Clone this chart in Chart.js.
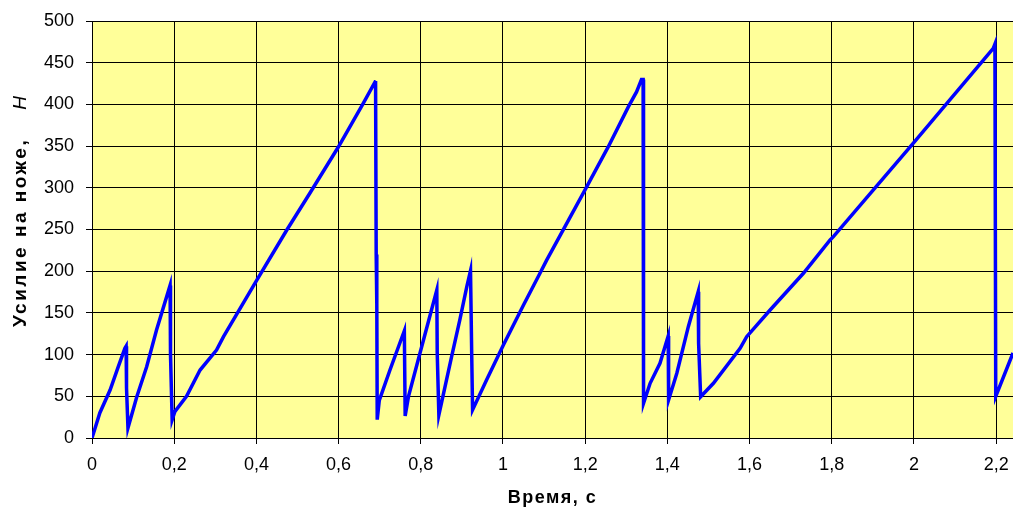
<!DOCTYPE html>
<html>
  <head>
    <meta charset="utf-8">
    <script src="https://cdn.jsdelivr.net/npm/chart.js@4.4.0/dist/chart.umd.min.js"></script>
    <style type="text/css">
      body { margin: 0; background: #ffffff; }
      #wrap { width: 1013px; height: 513px; }
    </style>
  </head>
  <body>
    <div id="wrap"><canvas id="canvas" width="1013" height="513"></canvas></div>

    <script type="text/javascript">
      // время, с
      var timeS = [
        0, 0.019, 0.044, 0.064, 0.080, 0.083, 0.084, 0.0875,
        0.109, 0.133, 0.157, 0.190, 0.191, 0.195,
        0.202, 0.230, 0.263, 0.303, 0.320, 0.401, 0.474, 0.530, 0.599, 0.660, 0.689, 0.690,
        0.6915, 0.693, 0.694,
        0.699, 0.725, 0.760, 0.762,
        0.770, 0.798, 0.839, 0.840, 0.844,
        0.875, 0.895, 0.912, 0.921, 0.924, 0.926,
        0.960, 1.001, 1.050, 1.090, 1.106, 1.199, 1.256, 1.305, 1.325, 1.337, 1.341,
        1.342,
        1.358, 1.382, 1.402, 1.403,
        1.423, 1.451, 1.475, 1.476, 1.481,
        1.512, 1.577, 1.593, 1.650, 1.731, 1.796, 1.804, 1.998, 2.193, 2.197,
        2.199, 2.241
      ];
      // усилие на ноже, Н
      var forceN = [
        0, 30, 57.5, 85.5, 107.5, 110, 60, 12,
        49.5, 85.5, 129.5, 183, 100, 21.6,
        32, 50, 81.5, 105.5, 121.5, 189.4, 249.4, 293.4, 348.6, 401.3, 427.2, 428,
        220, 160, 22,
        45, 81.5, 128.6, 26.4,
        49.6, 101.6, 177.5, 102, 27.6,
        97.5, 141.5, 181.4, 200.6, 97.5, 33.6,
        69.5, 111.5, 159.5, 197.5, 213, 297, 349, 397, 415, 430, 430,
        41.6,
        65.6, 89.6, 122.3, 45.6,
        77.6, 133.5, 175.4, 113.5, 49.5,
        65.6, 107.5, 121.5, 153.5, 197.5, 237.4, 241.4, 353.4, 467.3, 472.4,
        50, 102
      ];

      var xTicks = [0, 0.2, 0.4, 0.6, 0.8, 1, 1.2, 1.4, 1.6, 1.8, 2, 2.2];
      var yTicks = [0, 50, 100, 150, 200, 250, 300, 350, 400, 450, 500];

      var points = timeS.map(function(t, i) { return { x: t, y: forceN[i] }; });

      var fmt = function(v) {
        return String(Math.round(v * 10) / 10).replace(".", ",");
      };

      var FONT = "'Liberation Sans', Arial, sans-serif";

      var plotBg = {
        id: "plotBg",
        beforeDraw: function(chart) {
          var a = chart.chartArea, ctx = chart.ctx;
          ctx.save();
          ctx.fillStyle = "#ffff99";
          ctx.fillRect(a.left, a.top, a.right - a.left, a.bottom - a.top);
          ctx.restore();
        }
      };

      // подписи осей: жирный текст с разрядкой, курсивная H
      var axisTitles = {
        id: "axisTitles",
        afterDraw: function(chart) {
          var ctx = chart.ctx, a = chart.chartArea;
          ctx.save();
          ctx.fillStyle = "#000000";
          ctx.textBaseline = "middle";

          ctx.font = "bold 18px " + FONT;
          ctx.letterSpacing = "1.5px";
          ctx.textAlign = "center";
          ctx.fillText("Время, с", (a.left + a.right) / 2, 498);

          ctx.translate(21, 327);
          ctx.rotate(-Math.PI / 2);
          ctx.textAlign = "left";
          ctx.font = "bold 19px " + FONT;
          ctx.letterSpacing = "2.5px";
          var main = "Усилие на ноже,";
          ctx.fillText(main, 0, 0);
          var w = ctx.measureText(main).width;
          ctx.font = "italic 19px " + FONT;
          ctx.letterSpacing = "0px";
          ctx.fillText("H", w + 28, 0);
          ctx.restore();
        }
      };

      var ctx = document.getElementById("canvas").getContext("2d");
      new Chart(ctx, {
        type: "line",
        data: {
          datasets: [{
            data: points,
            borderColor: "#0000ff",
            borderWidth: 3.5,
            pointRadius: 0,
            tension: 0,
            fill: false
          }]
        },
        options: {
          responsive: false,
          animation: false,
          layout: { padding: { top: 21, right: 0, left: 0, bottom: 0 } },
          plugins: { legend: { display: false }, tooltip: { enabled: false } },
          scales: {
            x: {
              type: "linear",
              min: 0,
              max: 2.241,
              afterFit: function(s) { s.height = 75; s.paddingLeft = 0; s.paddingRight = 0; },
              afterBuildTicks: function(s) {
                s.ticks = xTicks.map(function(v) { return { value: v }; });
              },
              ticks: {
                color: "#000000",
                padding: 10,
                maxRotation: 0,
                font: { family: FONT, size: 18 },
                callback: fmt
              },
              grid: { color: "#000000", lineWidth: 1, tickLength: 6, tickColor: "#000000" },
              border: { color: "#000000", width: 1 }
            },
            y: {
              min: 0,
              max: 500,
              afterFit: function(s) { s.width = 92; s.paddingTop = 0; s.paddingBottom = 0; },
              afterBuildTicks: function(s) {
                s.ticks = yTicks.map(function(v) { return { value: v }; });
              },
              ticks: {
                color: "#000000",
                padding: 12,
                font: { family: FONT, size: 18 },
                callback: fmt
              },
              grid: { color: "#000000", lineWidth: 1, tickLength: 6, tickColor: "#000000" },
              border: { color: "#000000", width: 1 }
            }
          }
        },
        plugins: [plotBg, axisTitles]
      });
    </script>
  </body>
</html>
